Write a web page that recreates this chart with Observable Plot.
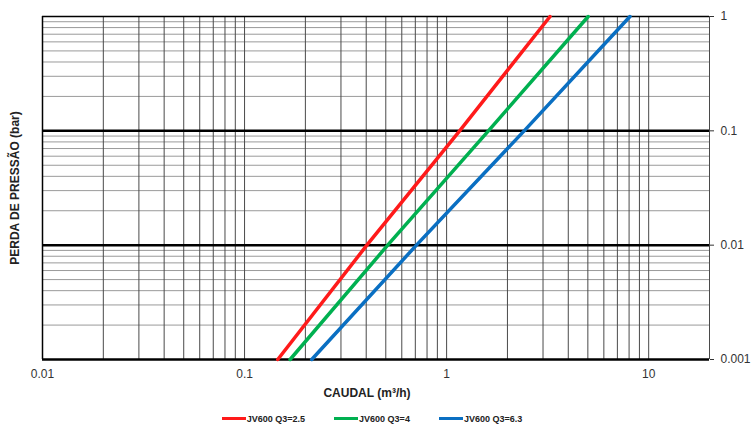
<!DOCTYPE html>
<html>
<head>
<meta charset="utf-8">
<script src="https://cdn.jsdelivr.net/npm/d3@7"></script>
<script src="https://cdn.jsdelivr.net/npm/@observablehq/plot@0.6"></script>
<style>
  html, body { margin: 0; padding: 0; background: #fff; }
  #legend { display: flex; justify-content: center; align-items: center; gap: 29px; height: 27px;
    font: bold 9px "Liberation Sans", Arial, sans-serif; color: #222; padding-right: 8px; }
  #legend .item { display: flex; align-items: center; }
  #legend .sw { display: inline-block; width: 24px; height: 3px; margin-right: 1px; }
</style>
</head>
<body>
<div id="chart"></div>
<div id="legend"></div>
<script>
// Series
const seriesNames = ["JV600 Q3=2.5", "JV600 Q3=4", "JV600 Q3=6.3"];
const seriesColors = ["#ff1a1a", "#00b050", "#0a6fc2"];
// Pressure loss (bar) at which flows are read
const pressures = [0.001, 0.01, 0.1, 1];
// Flow (m³/h) for each series at those pressures
const flowQ25 = [0.146, 0.403, 1.16, 3.25];
const flowQ4 = [0.168, 0.511, 1.61, 5.02];
const flowQ63 = [0.215, 0.709, 2.42, 8.08];
// Ticks
const xTicks = [0.01, 0.1, 1, 10];
const yTicks = [0.001, 0.01, 0.1, 1];
const xTickLabels = ["0.01", "0.1", "1", "10"];
const yTickLabels = ["0.001", "0.01", "0.1", "1"];
const xGrid = [0.02,0.03,0.04,0.05,0.06,0.07,0.08,0.09,0.1,0.2,0.3,0.4,0.5,0.6,0.7,0.8,0.9,1,2,3,4,5,6,7,8,9,10,20];
const yMinorGrid = [0.002,0.003,0.004,0.005,0.006,0.007,0.008,0.009,0.02,0.03,0.04,0.05,0.06,0.07,0.08,0.09,0.2,0.3,0.4,0.5,0.6,0.7,0.8,0.9];
const yMajorGrid = [0.001, 0.01, 0.1];

const flows = [flowQ25, flowQ4, flowQ63];
const data = [];
seriesNames.forEach((s, i) => pressures.forEach((p, j) => data.push({series: s, p, q: flows[i][j]})));

const xLabelOf = new Map(xTicks.map((t, i) => [t, xTickLabels[i]]));
const yLabelOf = new Map(yTicks.map((t, i) => [t, yTickLabels[i]]));

const chart = Plot.plot({
  width: 752,
  height: 405,
  marginLeft: 42,
  marginRight: 43,
  marginTop: 16,
  marginBottom: 46,
  x: {type: "log", domain: [0.01, 20]},
  y: {type: "log", domain: [0.001, 1]},
  color: {domain: seriesNames, range: seriesColors},
  style: {fontFamily: "'Liberation Sans', Arial, sans-serif", fontSize: "12px", color: "#333", background: "#fff"},
  marks: [
    Plot.ruleY(yMinorGrid, {stroke: "#9a9a9a", strokeWidth: 1}),
    Plot.ruleX(xGrid, {stroke: "#4a4a4a", strokeWidth: 1}),
    Plot.ruleX([0.01], {stroke: "#000", strokeWidth: 1.5}),
    Plot.ruleY([1], {stroke: "#000", strokeWidth: 1.5}),
    Plot.ruleY(yMajorGrid, {stroke: "#000", strokeWidth: 2.5}),
    Plot.line(data, {x: "q", y: "p", z: "series", stroke: "series", strokeWidth: 3.5}),
    Plot.axisX({ticks: xTicks, tickSize: 0, tickPadding: 10, tickFormat: (d) => xLabelOf.get(d) ?? String(d), label: null}),
    Plot.axisY({ticks: yTicks, anchor: "right", tickSize: 4, tickPadding: 7, tickFormat: (d) => yLabelOf.get(d) ?? String(d), label: null}),
    Plot.text(["CAUDAL (m³/h)"], {frameAnchor: "bottom", lineAnchor: "middle", textAnchor: "middle", dy: 34, dx: -9, fontWeight: "bold", fontSize: 12, fill: "#222"}),
    Plot.text(["PERDA DE PRESSÃO (bar)"], {frameAnchor: "left", lineAnchor: "middle", textAnchor: "middle", rotate: -90, dx: -27, fontWeight: "bold", fontSize: 12, fill: "#222"})
  ]
});
document.getElementById("chart").appendChild(chart);

const legend = document.getElementById("legend");
seriesNames.forEach((s, i) => {
  const item = document.createElement("div");
  item.className = "item";
  const sw = document.createElement("span");
  sw.className = "sw";
  sw.style.background = seriesColors[i];
  const t = document.createElement("span");
  t.textContent = s;
  item.appendChild(sw);
  item.appendChild(t);
  legend.appendChild(item);
});
</script>
</body>
</html>
